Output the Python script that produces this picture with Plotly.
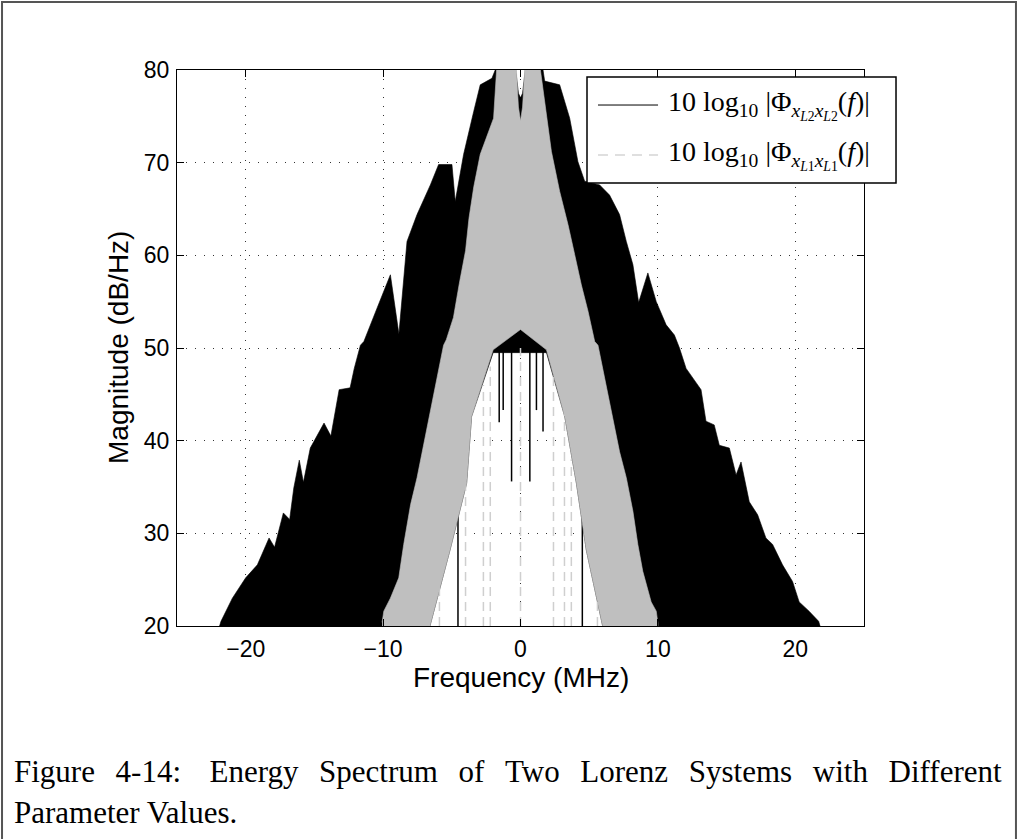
import plotly.graph_objects as go

# ---------------- data ----------------
# Upper envelope of the x_L2 spectrum (black), frequency in MHz, magnitude in dB/Hz
black_freq = [-21.9, -21.8, -20.97, -20.0, -19.15, -18.3, -17.9, -17.26, -16.8, -16.5, -16.1, -15.8,
              -15.3, -14.3, -13.8, -13.2, -12.4, -12.1, -11.65, -11.4, -10.44, -9.47, -8.85, -8.26,
              -7.53, -6.56, -5.96, -4.99, -4.75, -4.14, -3.41, -2.93, -2.08, -1.84, -0.35, -0.15,
              0.0, 0.15, 0.35, 1.64, 1.76, 2.85, 3.58, 4.18, 4.67, 5.76, 6.48, 7.21, 7.70, 8.18,
              8.6, 9.27, 9.88, 10.6, 11.2, 11.57, 12.05, 13.14, 13.5, 14.1, 14.47, 15.2, 15.69,
              16.05, 16.65, 17.26, 17.86, 18.35, 19.07, 19.8, 20.28, 21.0, 21.7, 21.8]
black_top = [20.0, 20.5, 23.0, 25.2, 26.6, 29.5, 28.5, 32.2, 31.5, 34.9, 37.9, 35.5,
             39.2, 41.9, 40.5, 45.5, 45.7, 47.8, 50.3, 50.7, 54.3, 57.9, 51.5, 61.5,
             64.4, 67.6, 69.8, 69.8, 65.8, 70.9, 75.5, 78.4, 79.1, 80.0, 80.0, 77.5,
             77.0, 77.5, 80.0, 80.0, 78.8, 78.4, 74.8, 70.1, 68.0, 67.6, 66.5, 64.4, 61.5, 59.0,
             54.9, 58.1, 55.0, 52.5, 51.4, 50.0, 47.8, 45.5, 42.1, 41.7, 39.5, 39.2, 36.3,
             37.7, 33.4, 32.0, 29.5, 28.8, 26.6, 24.8, 22.6, 21.6, 20.5, 20.0]
# Lower edge of the black spectrum (left to right)
black_floor_freq = [-21.9, -6.59, -5.13, -3.92, -3.56, -1.99, 0.0, 1.89, 3.22, 4.07, 4.79, 5.98, 21.8]
black_floor = [20.0, 20.0, 28.2, 35.4, 42.6, 49.5, 49.5, 49.5, 42.6, 35.4, 28.2, 20.0, 20.0]

# Deep black notches reaching down into the white centre region
spike_freq = [-4.55, -1.55, -1.26, -0.65, 0.68, 1.16, 1.64, 4.5]
spike_low = [20.0, 42.0, 43.3, 35.6, 35.6, 43.3, 41.0, 20.0]
spike_high = [38.0, 50.0, 50.0, 50.0, 50.0, 50.0, 50.0, 36.0]

# Faint dashed grey strokes of the x_L1 spectrum inside the white centre region
gdash_freq = [-5.9, -4.0, -2.7, -2.2, 0.0, 2.4, 3.2, 3.7, 5.6]
gdash_low = [20.0, 20.0, 20.0, 20.0, 20.0, 20.0, 20.0, 20.0, 20.0]
gdash_high = [26.0, 38.0, 46.0, 48.0, 50.0, 48.0, 44.0, 38.0, 26.0]

# Upper envelope of the x_L1 spectrum (grey)
gray_freq = [-10.07, -9.95, -9.47, -8.86, -8.5, -8.26, -8.0, -7.53, -7.05, -6.56, -6.08, -5.6,
             -5.4, -4.88, -4.45, -4.0, -3.75, -3.4, -2.93, -1.96, -1.74, -0.3, -0.15, 0.0,
             0.15, 0.31, 1.45, 1.76, 2.25, 2.85, 3.46, 3.94, 4.43, 4.91, 5.4, 5.64, 6.12,
             6.61, 7.21, 7.70, 8.18, 8.54, 8.9, 9.51, 9.88, 10.0]
gray_top = [20.4, 21.6, 23.0, 25.2, 28.8, 30.9, 33.1, 36.0, 39.5, 43.1, 46.7, 50.3,
            50.9, 53.3, 57.0, 60.5, 64.0, 67.4, 70.9, 74.8, 80.0, 80.0, 76.0, 74.5,
            76.0, 80.0, 80.0, 76.6, 71.2, 66.9, 63.3, 60.1, 56.8, 54.0, 50.7, 50.3, 46.7,
            43.1, 38.8, 36.0, 32.4, 28.8, 25.9, 22.6, 21.6, 20.3]
# Lower edge of the grey spectrum (left to right): the white arch in the middle
gray_floor_freq = [-10.07, -6.59, -5.13, -3.92, -3.56, -1.99, 0.0, 1.89, 3.22, 4.07, 4.79, 5.98, 10.0]
gray_floor = [20.0, 20.0, 28.2, 35.4, 42.6, 49.8, 52.0, 49.8, 42.6, 35.4, 28.2, 20.0, 20.0]

x_ticks = [-20, -10, 0, 10, 20]
y_ticks = [20, 30, 40, 50, 60, 70, 80]

legend_labels = [
    "10 log<sub>10</sub> |\u03a6<sub><i>x</i><sub><i>L</i>2</sub><i>x</i><sub><i>L</i>2</sub></sub>(<i>f</i>)|",
    "10 log<sub>10</sub> |\u03a6<sub><i>x</i><sub><i>L</i>1</sub><i>x</i><sub><i>L</i>1</sub></sub>(<i>f</i>)|",
]
caption_words = ["Figure", "4-14:", "Energy", "Spectrum", "of", "Two", "Lorenz", "Systems", "with", "Different"]
caption_line2 = "Parameter Values."

BLACK = "#000000"
GRAY = "#bfbfbf"
LIGHT = "#cfcfcf"

fig = go.Figure()

# black spectrum as filled band
fig.add_trace(go.Scatter(
    x=black_freq + black_floor_freq[::-1],
    y=black_top + black_floor[::-1],
    mode="lines", fill="toself", fillcolor=BLACK,
    line=dict(color=BLACK, width=0.6), hoverinfo="skip", showlegend=False))

# black notches
sx, sy = [], []
for f, lo, hi in zip(spike_freq, spike_low, spike_high):
    sx += [f, f, None]
    sy += [lo, hi, None]
fig.add_trace(go.Scatter(x=sx, y=sy, mode="lines", line=dict(color=BLACK, width=1.5),
                         hoverinfo="skip", showlegend=False))

# faint grey dashed strokes
dx, dy = [], []
for f, lo, hi in zip(gdash_freq, gdash_low, gdash_high):
    dx += [f, f, None]
    dy += [lo, hi, None]
fig.add_trace(go.Scatter(x=dx, y=dy, mode="lines", line=dict(color=LIGHT, width=1.5, dash="9px,6px"),
                         hoverinfo="skip", showlegend=False))

# grey spectrum on top
fig.add_trace(go.Scatter(
    x=gray_freq + gray_floor_freq[::-1],
    y=gray_top + gray_floor[::-1],
    mode="lines", fill="toself", fillcolor=GRAY,
    line=dict(color=GRAY, width=0.6), hoverinfo="skip", showlegend=False))

axis_common = dict(
    showline=True, linecolor="black", linewidth=1, mirror="ticks",
    ticks="inside", ticklen=7, tickcolor="black", tickwidth=1,
    showgrid=True, gridcolor="#333333", gridwidth=1, griddash="1px,8px",
    zeroline=False,
    tickfont=dict(family="Liberation Sans, Arial, sans-serif", size=23, color="black"),
)
fig.update_xaxes(range=[-25, 25], tickvals=x_ticks, ticklabelstandoff=2, **axis_common)
fig.update_yaxes(range=[20, 80], tickvals=y_ticks, ticklabelstandoff=2, **axis_common)

# axis titles
fig.add_annotation(text="Frequency (MHz)", xref="paper", yref="paper", x=0.5, y=0,
                   yshift=-51, showarrow=False, xanchor="center", yanchor="middle",
                   font=dict(family="Liberation Sans, Arial, sans-serif", size=28, color="black"))
fig.add_annotation(text="Magnitude (dB/Hz)", xref="paper", yref="paper", x=0, y=0.5,
                   xshift=-59, showarrow=False, textangle=-90, xanchor="center", yanchor="middle",
                   font=dict(family="Liberation Sans, Arial, sans-serif", size=28, color="black"))

# legend box (drawn by hand to mimic the MATLAB legend)
fig.add_shape(type="rect", xref="paper", yref="paper", x0=0.5968, x1=1.0466, y0=0.7968, y1=0.9874,
              line=dict(color="black", width=1.5), fillcolor="white", layer="above")
fig.add_shape(type="line", xref="paper", yref="paper", x0=0.6128, x1=0.7002, y0=0.937, y1=0.937,
              line=dict(color=BLACK, width=1), layer="above")
fig.add_shape(type="line", xref="paper", yref="paper", x0=0.6128, x1=0.7002, y0=0.8471, y1=0.8471,
              line=dict(color=GRAY, width=1, dash="10px,7px"), layer="above")
for lab, yy in zip(legend_labels, [0.937, 0.8471]):
    fig.add_annotation(text=lab, xref="paper", yref="paper", x=0.7118, y=yy, showarrow=False,
                       xanchor="left", yanchor="middle",
                       font=dict(family="Liberation Serif, Times New Roman, serif", size=28, color="black"))

# outer frame
fig.add_shape(type="rect", xref="paper", yref="paper", x0=-0.2547, x1=1.2212, y0=-0.45, y1=1.1223,
              line=dict(color="#555555", width=2), fillcolor="rgba(0,0,0,0)", layer="above")

# caption (first line justified like the LaTeX original)
gap = "  \u2006"
line1 = caption_words[0] + gap + caption_words[1] + " " + gap + gap.join(caption_words[2:])
for line, py in zip([line1, caption_line2], [771, 812]):
    fig.add_annotation(text=line, xref="paper", yref="paper", x=(12 - 177) / 687, y=(626 - py) / 556,
                       showarrow=False, xanchor="left", yanchor="middle",
                       font=dict(family="Liberation Serif, Times New Roman, serif", size=31, color="black"))

fig.update_layout(
    width=1018, height=839,
    margin=dict(l=177, r=154, t=70, b=213),
    paper_bgcolor="white", plot_bgcolor="white",
    showlegend=False,
)

fig.write_html("out.html")
